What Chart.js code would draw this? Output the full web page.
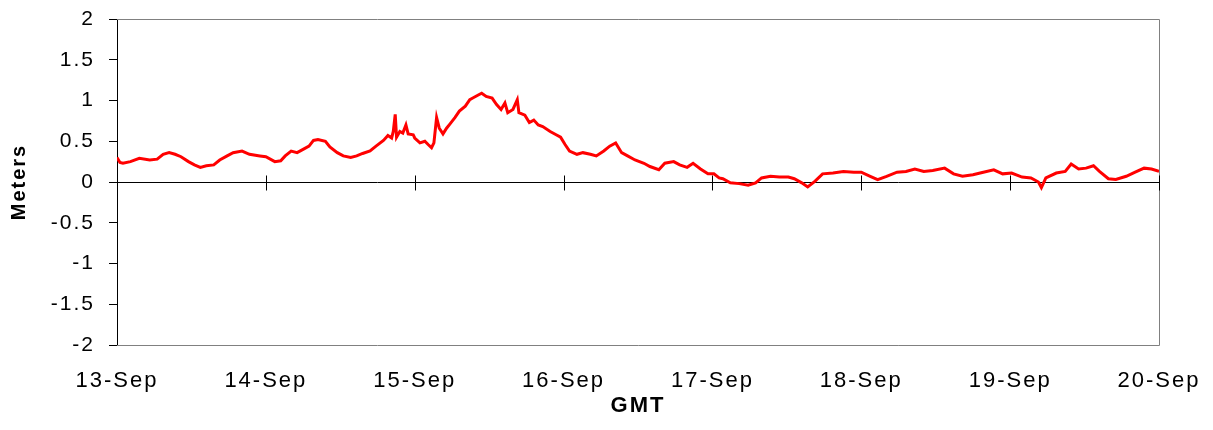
<!DOCTYPE html>
<html>
<head>
<meta charset="utf-8">
<script src="https://cdn.jsdelivr.net/npm/chart.js@4"></script>
<style>
  html, body { margin: 0; padding: 0; background: #fff; }
  #wrap { width: 1213px; height: 430px; }
</style>
</head>
<body>
<div id="wrap"><canvas id="c" width="1213" height="430"></canvas></div>
<script>
// tick labels for the day axis (0 = 13-Sep 00:00 GMT)
const dayLabels = ["13-Sep", "14-Sep", "15-Sep", "16-Sep", "17-Sep", "18-Sep", "19-Sep", "20-Sep"];

// time in days since 13-Sep
const days = [
    0.00, 0.02, 0.04, 0.09, 0.15, 0.22, 0.27, 0.31, 0.35, 0.39, 0.43, 0.48, 0.52, 0.56, 0.60, 0.65,
    0.69, 0.74, 0.78, 0.84, 0.89, 0.96, 1.00, 1.06, 1.10, 1.13, 1.17, 1.21, 1.25, 1.29, 1.32, 1.35,
    1.40, 1.43, 1.48, 1.52, 1.57, 1.61, 1.65, 1.70, 1.74, 1.79, 1.82, 1.845, 1.856, 1.869, 1.878, 1.90,
    1.92, 1.941, 1.956, 1.99, 2.00, 2.035, 2.068, 2.09, 2.113, 2.129, 2.147, 2.165, 2.19, 2.214, 2.236, 2.27,
    2.30, 2.34, 2.37, 2.39, 2.43, 2.45, 2.48, 2.52, 2.55, 2.58, 2.606, 2.625, 2.66, 2.689, 2.70, 2.74,
    2.77, 2.80, 2.83, 2.86, 2.91, 2.95, 2.98, 3.01, 3.04, 3.09, 3.13, 3.18, 3.22, 3.27, 3.31, 3.35,
    3.39, 3.43, 3.48, 3.54, 3.58, 3.64, 3.68, 3.74, 3.78, 3.83, 3.87, 3.92, 3.97, 4.01, 4.045, 4.07,
    4.12, 4.18, 4.24, 4.29, 4.33, 4.39, 4.45, 4.51, 4.55, 4.60, 4.64, 4.69, 4.74, 4.81, 4.88, 4.95,
    5.00, 5.06, 5.11, 5.17, 5.24, 5.30, 5.36, 5.42, 5.48, 5.56, 5.62, 5.68, 5.75, 5.82, 5.89, 5.95,
    6.01, 6.08, 6.14, 6.19, 6.21, 6.24, 6.31, 6.37, 6.41, 6.46, 6.51, 6.56, 6.60, 6.66, 6.71, 6.78,
    6.84, 6.90, 6.95, 7.00
];

// water level in meters
const meters = [
    0.30, 0.24, 0.23, 0.25, 0.29, 0.27, 0.28, 0.34, 0.36, 0.34, 0.31, 0.25, 0.21, 0.18, 0.20, 0.21,
    0.27, 0.32, 0.36, 0.38, 0.34, 0.32, 0.31, 0.25, 0.26, 0.32, 0.38, 0.36, 0.40, 0.44, 0.51, 0.52,
    0.50, 0.43, 0.36, 0.32, 0.30, 0.32, 0.35, 0.38, 0.44, 0.51, 0.57, 0.54, 0.62, 0.83, 0.55, 0.62,
    0.60, 0.70, 0.59, 0.58, 0.54, 0.48, 0.50, 0.46, 0.42, 0.48, 0.79, 0.66, 0.59, 0.66, 0.71, 0.79,
    0.87, 0.93, 1.01, 1.03, 1.07, 1.09, 1.05, 1.03, 0.95, 0.89, 0.97, 0.85, 0.89, 1.01, 0.85, 0.82,
    0.73, 0.76, 0.70, 0.68, 0.62, 0.58, 0.55, 0.46, 0.38, 0.34, 0.36, 0.34, 0.32, 0.38, 0.44, 0.48,
    0.36, 0.32, 0.27, 0.23, 0.19, 0.15, 0.23, 0.25, 0.21, 0.18, 0.23, 0.16, 0.10, 0.10, 0.05, 0.04,
    -0.01, -0.02, -0.04, -0.01, 0.05, 0.07, 0.06, 0.06, 0.04, -0.01, -0.06, 0.01, 0.10, 0.11, 0.13, 0.12,
    0.12, 0.07, 0.03, 0.07, 0.12, 0.13, 0.16, 0.13, 0.14, 0.17, 0.10, 0.07, 0.09, 0.12, 0.15, 0.10,
    0.11, 0.06, 0.05, 0.00, -0.07, 0.05, 0.11, 0.13, 0.22, 0.16, 0.17, 0.20, 0.13, 0.04, 0.03, 0.07,
    0.12, 0.17, 0.16, 0.13
];

const points = days.map((d, i) => ({ x: d, y: meters[i] }));

const fontFamily = "'Liberation Sans', Arial, Helvetica, sans-serif";

// excel-like plot frame: grey box, zero line with day ticks crossing it
const framePlugin = {
    id: "frame",
    beforeDraw(chart) {
        // excel text is spaced a bit wider than the browser's
        chart.ctx.letterSpacing = "2px";
    },
    beforeDatasetsDraw(chart) {
        const { ctx, chartArea, scales } = chart;
        const y0 = Math.round(scales.y.getPixelForValue(0)) + 0.5;
        ctx.save();
        ctx.lineWidth = 1;
        ctx.strokeStyle = "#808080";
        ctx.beginPath();
        ctx.moveTo(chartArea.left, chartArea.top + 0.5);
        ctx.lineTo(chartArea.right + 0.5, chartArea.top + 0.5);
        ctx.lineTo(chartArea.right + 0.5, chartArea.bottom + 0.5);
        ctx.lineTo(chartArea.left, chartArea.bottom + 0.5);
        ctx.stroke();

        ctx.strokeStyle = "#000";
        ctx.beginPath();
        ctx.moveTo(chartArea.left, y0);
        ctx.lineTo(chartArea.right, y0);
        dayLabels.forEach((_, i) => {
            const x = Math.round(scales.x.getPixelForValue(i)) + 0.5;
            ctx.moveTo(x, y0 - 7);
            ctx.lineTo(x, y0 + 8);
        });
        ctx.stroke();
        ctx.restore();
    },
};

const chart = new Chart(document.getElementById("c"), {
    type: "line",
    data: {
        datasets: [
            {
                label: "Meters",
                data: points,
                borderColor: "#ff0000",
                borderWidth: 3,
                pointRadius: 0,
                tension: 0,
                fill: false,
            },
        ],
    },
    options: {
        responsive: false,
        animation: false,
        layout: { padding: { top: 19, right: 54, left: 0, bottom: 0 } },
        plugins: {
            legend: { display: false },
            tooltip: { enabled: false },
        },
        scales: {
            x: {
                type: "linear",
                min: 0,
                max: 7,
                grid: { display: false, drawTicks: false },
                border: { display: false },
                ticks: {
                    stepSize: 1,
                    autoSkip: false,
                    maxRotation: 0,
                    padding: 23,
                    color: "#000",
                    font: { family: fontFamily, size: 22 },
                    callback: (v) => dayLabels[v] ?? "",
                },
                title: {
                    display: true,
                    text: "GMT",
                    color: "#000",
                    font: { family: fontFamily, size: 22, weight: "bold" },
                    padding: { top: 0, bottom: 11 },
                },
                afterFit(scale) {
                    scale.height = 85;
                    scale.paddingLeft = 0;
                    scale.paddingRight = 0;
                },
            },
            y: {
                min: -2,
                max: 2,
                grid: {
                    drawOnChartArea: false,
                    drawTicks: true,
                    tickLength: 8,
                    color: "#000",
                },
                border: { display: true, color: "#000", width: 1 },
                ticks: {
                    stepSize: 0.5,
                    padding: 14,
                    color: "#000",
                    font: { family: fontFamily, size: 21 },
                    callback: (v) => String(v),
                },
                title: {
                    display: true,
                    text: "Meters",
                    color: "#000",
                    font: { family: fontFamily, size: 20, weight: "bold" },
                    padding: { top: 7, bottom: 0 },
                },
                afterFit(scale) {
                    scale.width = 117;
                    scale.paddingTop = 0;
                    scale.paddingBottom = 0;
                },
            },
        },
    },
    plugins: [framePlugin],
});
</script>
</body>
</html>
